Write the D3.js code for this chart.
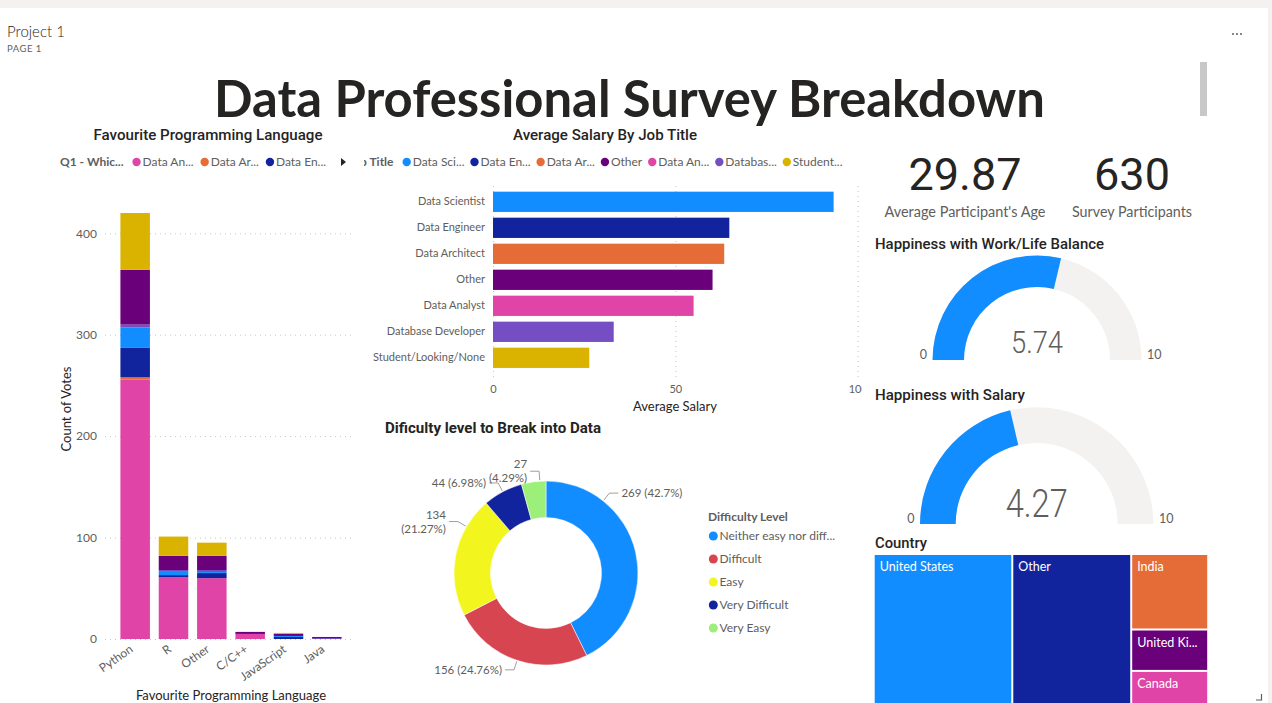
<!DOCTYPE html>
<html><head><meta charset="utf-8">
<script src="https://cdn.jsdelivr.net/npm/d3@7"></script>
<style>
body{margin:0;background:#fff;overflow:hidden}
svg{display:block}
</style>
</head><body>
<svg id="c" width="1272" height="703"></svg>
<script>
// ---------------- DATA ----------------
const languages = ["Python","R","Other","C/C++","JavaScript","Java"];
const jobTitles = ["Data Analyst","Data Architect","Data Engineer","Data Scientist","Database Developer","Other","Student/Looking/None"];
const votesDataAnalyst      = [256, 61, 60, 5, 0, 0];
const votesDataArchitect    = [2, 0, 0, 0, 0, 0];
const votesDataEngineer     = [29, 2, 5, 0, 2, 0];
const votesDataScientist    = [20, 4, 1, 0, 1, 0];
const votesDatabaseDeveloper= [3, 1, 2, 0, 0, 1];
const votesOther            = [54, 14, 14, 2, 2, 1];
const votesStudent          = [56, 19, 13, 0, 1, 0];
const voteTicks = [0, 100, 200, 300, 400];

const salaryTitles = ["Data Scientist","Data Engineer","Data Architect","Other","Data Analyst","Database Developer","Student/Looking/None"];
const salaryValues = [93.4, 64.8, 63.4, 60.2, 55.0, 33.1, 26.4];
const salaryTicks = [0, 50, 100];

const difficultyLevels = ["Neither easy nor difficult","Difficult","Easy","Very Difficult","Very Easy"];
const difficultyCounts = [269, 156, 134, 44, 27];

const averageAge = 29.87;
const surveyParticipants = 630;
const happinessWorkLife = 5.74;
const happinessSalary = 4.27;
const gaugeRange = [0, 10];

const countries = ["United States","Other","India","United Kingdom","Canada"];
const countryCounts = [261, 224, 73, 40, 32];

// ---------------- STYLE ----------------
const jobColors = {
  "Data Analyst":"#E044A7","Data Architect":"#E66C37","Data Engineer":"#12239E",
  "Data Scientist":"#118DFF","Database Developer":"#744EC2","Other":"#6B007B",
  "Student/Looking/None":"#D9B300"
};
const difficultyColors = ["#118DFF","#D64550","#F2F51E","#12239E","#9CF07A"];
const countryColors = ["#118DFF","#12239E","#E66C37","#6B007B","#E044A7"];
const DIN = "Roboto, 'DejaVu Sans', sans-serif";
const SEGOE = "Lato, 'Open Sans', sans-serif";
const DARK = "#252423", GRAY = "#605e5c";

const svg = d3.select("#c");

// page chrome
svg.append("rect").attr("x",0).attr("y",0).attr("width",1272).attr("height",8).attr("fill","#f3f2f1");
svg.append("rect").attr("x",1268).attr("y",0).attr("width",4).attr("height",703).attr("fill","#f3f2f1");
svg.append("text").attr("x",7).attr("y",37).text("Project 1")
  .attr("font-family",SEGOE).attr("font-size",15).attr("font-weight",300).attr("fill",DARK);
svg.append("text").attr("x",7).attr("y",51.5).text("PAGE 1")
  .attr("font-family",SEGOE).attr("font-size",9.5).attr("font-weight",400).attr("letter-spacing",0.5).attr("fill",GRAY);
[0,1,2].forEach(i=>svg.append("rect").attr("x",1232+i*4).attr("y",33).attr("width",2).attr("height",2).attr("fill","#8a8886"));
svg.append("rect").attr("x",1200).attr("y",62).attr("width",7).attr("height",54).attr("fill","#c8c8c8");

svg.append("text").attr("x",629.5).attr("y",117).attr("text-anchor","middle")
  .attr("font-family",SEGOE).attr("font-weight",700).attr("font-size",52).attr("fill",DARK)
  .attr("textLength",831).attr("lengthAdjust","spacingAndGlyphs")
  .text("Data Professional Survey Breakdown");

function title(x, y, txt, w, anchor, weight){
  const t = svg.append("text").attr("x",x).attr("y",y).attr("text-anchor",anchor||"start")
    .attr("font-family",DIN).attr("font-weight",weight||500).attr("font-size",14).attr("fill",DARK).text(txt);
  if (w) t.attr("textLength",w).attr("lengthAdjust","spacingAndGlyphs");
  return t;
}
function fitText(sel, txt, maxW){
  sel.text(txt);
  if (sel.node().getComputedTextLength() <= maxW) return;
  let s = txt;
  while (s.length > 1){
    s = s.slice(0,-1);
    sel.text(s.trimEnd()+"...");
    if (sel.node().getComputedTextLength() <= maxW) return;
  }
}
function legend(g, x0, y, items, colors, maxW){
  let x = x0;
  for (let i=0;i<items.length;i++){
    g.append("circle").attr("cx",x).attr("cy",y).attr("r",4.2).attr("fill",colors[i]);
    const t = g.append("text").attr("x",x+6).attr("y",y).attr("dy","0.35em")
      .attr("font-family",SEGOE).attr("font-size",12).attr("fill",GRAY);
    fitText(t, items[i], maxW);
    x += 6 + t.node().getComputedTextLength() + 10;
  }
}

// ---------------- STACKED BAR: Favourite Programming Language ----------------
{
  title(208, 140, "Favourite Programming Language", 229, "middle");
  const lg = svg.append("g");
  const hdr = lg.append("text").attr("x",60).attr("y",162).attr("dy","0.35em")
    .attr("font-family",SEGOE).attr("font-weight",700).attr("font-size",12).attr("fill",GRAY).text("Q1 - Whic...");
  let lx = 60 + hdr.node().getComputedTextLength() + 13;
  jobTitles.slice(0,3).forEach(j=>{
    lg.append("circle").attr("cx",lx).attr("cy",162).attr("r",4.2).attr("fill",jobColors[j]);
    const t = lg.append("text").attr("x",lx+6).attr("y",162).attr("dy","0.35em")
      .attr("font-family",SEGOE).attr("font-size",12).attr("fill",GRAY);
    fitText(t, j, 52);
    lx += 6 + t.node().getComputedTextLength() + 11;
  });
  lg.append("path").attr("d","M341,158 L346,162 L341,166 Z").attr("fill",DARK);

  const series = {
    "Data Analyst":votesDataAnalyst,"Data Architect":votesDataArchitect,"Data Engineer":votesDataEngineer,
    "Data Scientist":votesDataScientist,"Database Developer":votesDatabaseDeveloper,"Other":votesOther,
    "Student/Looking/None":votesStudent
  };
  const rows = languages.map((l,i)=>{
    const r = {lang:l};
    jobTitles.forEach(j=> r[j] = series[j][i]);
    return r;
  });
  const stacked = d3.stack().keys(jobTitles)(rows);
  const x = d3.scaleBand().domain(languages).range([116,346]).paddingInner(0.23).paddingOuter(0.115);
  const y = d3.scaleLinear().domain([0,400]).range([639,233.3]);

  const grid = svg.append("g").attr("transform","translate(105,0)")
    .call(d3.axisLeft(y).tickValues(voteTicks).tickSize(-250).tickFormat(""));
  grid.select(".domain").remove();
  grid.selectAll("line").attr("stroke","#c8c6c4").attr("stroke-dasharray","1,4");

  svg.append("g").selectAll("g").data(stacked).join("g").attr("fill",d=>jobColors[d.key])
    .selectAll("rect").data(d=>d).join("rect")
    .attr("x",d=>x(d.data.lang)).attr("width",x.bandwidth())
    .attr("y",d=>y(d[1])).attr("height",d=>Math.max(0,y(d[0])-y(d[1])));

  const ya = svg.append("g").attr("transform","translate(97,0)")
    .call(d3.axisLeft(y).tickValues(voteTicks).tickSize(0).tickPadding(0));
  ya.select(".domain").remove();
  ya.selectAll("text").attr("font-family",SEGOE).attr("font-size",12).attr("fill",GRAY);

  const xa = svg.append("g").attr("transform","translate(0,639)")
    .call(d3.axisBottom(x).tickSize(0));
  xa.select(".domain").remove();
  xa.selectAll("text").attr("font-family",SEGOE).attr("font-size",12).attr("fill",GRAY)
    .attr("text-anchor","end").attr("x",-8).attr("y",9).attr("dy",0).attr("transform","rotate(-35)");

  svg.append("text").attr("transform","translate(71,409) rotate(-90)").attr("text-anchor","middle")
    .attr("font-family",SEGOE).attr("font-size",13).attr("fill",DARK).text("Count of Votes");
  svg.append("text").attr("x",231).attr("y",700).attr("text-anchor","middle")
    .attr("font-family",SEGOE).attr("font-size",13).attr("fill",DARK).text("Favourite Programming Language");
}

// ---------------- BAR: Average Salary by Job Title ----------------
{
  title(605, 140, "Average Salary By Job Title", 184, "middle");
  svg.append("clipPath").attr("id","salClip").append("rect").attr("x",364).attr("y",140).attr("width",498).attr("height",280);
  const g = svg.append("g").attr("clip-path","url(#salClip)");
  g.append("text").attr("x",393.5).attr("y",162).attr("dy","0.35em").attr("text-anchor","end")
    .attr("font-family",SEGOE).attr("font-weight",700).attr("font-size",12).attr("fill",GRAY).text("Job Title");
  legend(g, 406.7, 162, salaryTitles, salaryTitles.map(t=>jobColors[t]), 52);

  const y = d3.scaleBand().domain(salaryTitles).range([188.8,370.8]).paddingInner(0.22).paddingOuter(0.11);
  const x = d3.scaleLinear().domain([0,100]).range([493,857.7]);

  const grid = g.append("g").attr("transform","translate(0,377)")
    .call(d3.axisBottom(x).tickValues(salaryTicks).tickSize(-192).tickFormat(""));
  grid.select(".domain").remove();
  grid.selectAll("line").attr("stroke","#c8c6c4").attr("stroke-dasharray","1,4");

  g.append("g").selectAll("rect").data(salaryTitles).join("rect")
    .attr("x",x(0)).attr("y",d=>y(d)).attr("height",y.bandwidth())
    .attr("width",(d,i)=>x(salaryValues[i])-x(0)).attr("fill",d=>jobColors[d]);

  const ya = g.append("g").attr("transform","translate(493,0)").call(d3.axisLeft(y).tickSize(0).tickPadding(8));
  ya.select(".domain").remove();
  ya.selectAll("text").attr("font-family",SEGOE).attr("font-size",11).attr("fill",GRAY);

  const xa = g.append("g").attr("transform","translate(0,381)").call(d3.axisBottom(x).tickValues(salaryTicks).tickSize(0).tickPadding(4));
  xa.select(".domain").remove();
  xa.selectAll("text").attr("font-family",SEGOE).attr("font-size",11).attr("fill",GRAY);

  g.append("text").attr("x",675).attr("y",411).attr("text-anchor","middle")
    .attr("font-family",SEGOE).attr("font-size",13).attr("fill",DARK).text("Average Salary");
}

// ---------------- DONUT: Difficulty ----------------
{
  title(385, 433, "Dificulty level to Break into Data", 216, "start", 700);
  const cx = 546, cy = 573, R = 92, r = 55.5;
  const pie = d3.pie().sort(null).value(d=>d)(difficultyCounts);
  const arc = d3.arc().innerRadius(r).outerRadius(R);
  const g = svg.append("g").attr("transform",`translate(${cx},${cy})`);
  g.selectAll("path").data(pie).join("path").attr("d",arc).attr("fill",(d,i)=>difficultyColors[i])
    .attr("stroke","#fff").attr("stroke-width",0.5);

  const total = d3.sum(difficultyCounts);
  const labelFrac = [0.25, 0.5, 0.75, 0.5, 0.75];
  const twoLine = [false, false, true, false, true];
  pie.forEach((d,i)=>{
    const a = d.startAngle + (d.endAngle - d.startAngle)*labelFrac[i];
    const p1 = [Math.sin(a)*(R+1), -Math.cos(a)*(R+1)];
    const p2 = [Math.sin(a)*(R+10), -Math.cos(a)*(R+10)];
    const side = Math.sin(a) >= 0 ? 1 : -1;
    const p3 = [p2[0] + side*9, p2[1]];
    g.append("polyline").attr("points",[p1,p2,p3].map(p=>p.join(",")).join(" "))
      .attr("fill","none").attr("stroke","#a19f9d").attr("stroke-width",1);
    const pct = d3.format(".2~f")(d.data/total*100) + "%";
    const t = g.append("text").attr("x",p3[0]+side*3).attr("y",p3[1])
      .attr("text-anchor", side>0 ? "start" : "end")
      .attr("font-family",SEGOE).attr("font-size",11.5).attr("fill",GRAY);
    if (twoLine[i]){
      t.append("tspan").attr("x",p3[0]+side*3).attr("dy","-0.25em").text(d.data);
      t.append("tspan").attr("x",p3[0]+side*3).attr("dy","1.2em").text(`(${pct})`);
    } else {
      t.attr("dy","0.35em").text(`${d.data} (${pct})`);
    }
  });

  svg.append("text").attr("x",708).attr("y",517).attr("dy","0.35em")
    .attr("font-family",SEGOE).attr("font-weight",700).attr("font-size",12).attr("fill",GRAY).text("Difficulty Level");
  difficultyLevels.forEach((l,i)=>{
    const yy = 536 + i*23;
    svg.append("circle").attr("cx",713.3).attr("cy",yy).attr("r",4.5).attr("fill",difficultyColors[i]);
    const t = svg.append("text").attr("x",719.5).attr("y",yy).attr("dy","0.35em")
      .attr("font-family",SEGOE).attr("font-size",12).attr("fill",GRAY);
    fitText(t, l, 116);
  });
}

// ---------------- CARDS ----------------
function card(cx, value, label, labelW){
  svg.append("text").attr("x",cx).attr("y",190).attr("text-anchor","middle")
    .attr("font-family",DIN).attr("font-size",45).attr("fill",DARK).text(value);
  svg.append("text").attr("x",cx).attr("y",217).attr("text-anchor","middle")
    .attr("font-family",SEGOE).attr("font-size",14.5).attr("fill",GRAY)
    .attr("textLength",labelW).attr("lengthAdjust","spacingAndGlyphs").text(label);
}
card(965, d3.format(".2f")(averageAge), "Average Participant's Age", 161);
card(1132, surveyParticipants, "Survey Participants", 120);

// ---------------- GAUGES ----------------
function gauge(cx, cy, R, r, value, fontSize, valueW, titleTxt, titleY, titleW){
  title(875, titleY, titleTxt, titleW, "start");
  const a = d3.scaleLinear().domain(gaugeRange).range([-Math.PI/2, Math.PI/2]);
  const arc = d3.arc().innerRadius(r).outerRadius(R);
  const g = svg.append("g").attr("transform",`translate(${cx},${cy})`);
  g.append("path").attr("d",arc({startAngle:a(gaugeRange[0]),endAngle:a(gaugeRange[1])})).attr("fill","#F3F2F1");
  g.append("path").attr("d",arc({startAngle:a(gaugeRange[0]),endAngle:a(value)})).attr("fill","#118DFF");
  g.append("text").attr("x",0).attr("y",-7).attr("text-anchor","middle")
    .attr("font-family",DIN).attr("font-weight",300).attr("font-size",fontSize).attr("fill",GRAY)
    .attr("textLength",valueW).attr("lengthAdjust","spacingAndGlyphs").text(value);
  g.append("text").attr("x",-R-5.5).attr("y",-1).attr("text-anchor","end")
    .attr("font-family",SEGOE).attr("font-size",12.5).attr("fill",GRAY).text(gaugeRange[0]);
  g.append("text").attr("x",R+5.5).attr("y",-1).attr("text-anchor","start")
    .attr("font-family",SEGOE).attr("font-size",12.5).attr("fill",GRAY).text(gaugeRange[1]);
}
gauge(1037, 360, 104.5, 73, happinessWorkLife, 32, 52, "Happiness with Work/Life Balance", 249, 229);
gauge(1036.7, 524, 116.7, 81, happinessSalary, 39, 62, "Happiness with Salary", 400, 150);

// ---------------- TREEMAP: Country ----------------
{
  title(875, 548, "Country", 52, "start");
  const root = d3.hierarchy({children: countries.map((c,i)=>({name:c, value:countryCounts[i], color:countryColors[i]}))})
    .sum(d=>d.value||0).sort((a,b)=>b.value-a.value);
  d3.treemap().size([332.5, 148]).paddingInner(2).tile(d3.treemapSquarify)(root);
  const g = svg.append("g").attr("transform","translate(874.7,555)");
  const cells = g.selectAll("g").data(root.leaves()).join("g").attr("transform",d=>`translate(${d.x0},${d.y0})`);
  cells.append("rect").attr("width",d=>d.x1-d.x0).attr("height",d=>d.y1-d.y0).attr("fill",d=>d.data.color);
  cells.each(function(d){
    const t = d3.select(this).append("text").attr("x",5).attr("y",16)
      .attr("font-family",SEGOE).attr("font-size",12.5).attr("fill","#fff");
    fitText(t, d.data.name, d.x1-d.x0-10);
  });
  svg.append("path").attr("d","M1261.5,694 V700 H1256").attr("fill","none").attr("stroke","#605e5c").attr("stroke-width",1.2);
}
</script>
</body></html>
